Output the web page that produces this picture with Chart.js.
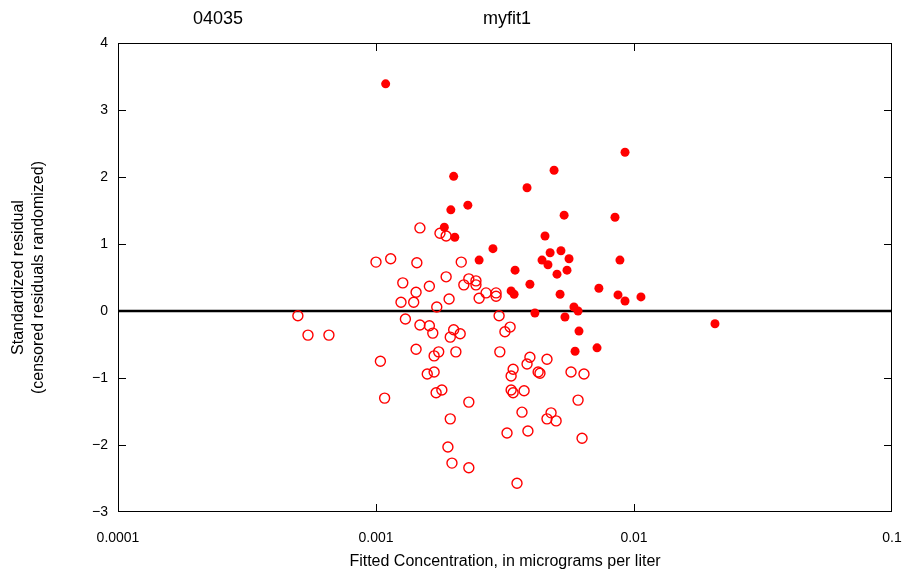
<!DOCTYPE html>
<html>
<head>
<meta charset="utf-8">
<title>04035 myfit1</title>
<script src="https://cdn.jsdelivr.net/npm/chart.js@4.4.0/dist/chart.umd.min.js"></script>
<style>
  body { margin: 0; background: #fff; }
  #wrap { width: 911px; height: 578px; }
</style>
</head>
<body>
<div id="wrap"><canvas id="residplot" width="911" height="578"></canvas></div>
<script>
// uncensored observations (filled dots)
const fitX = [0.00109, 0.00200, 0.00227, 0.00195, 0.00184, 0.00202, 0.00284, 0.00251, 0.00385, 0.00490,
  0.00923, 0.00536, 0.00844, 0.00452, 0.00473, 0.00521, 0.00440, 0.00560, 0.00464, 0.00882,
  0.00346, 0.00550, 0.00503, 0.00731, 0.00395, 0.00517, 0.00867, 0.00923, 0.01064, 0.00334,
  0.00343, 0.00413, 0.00585, 0.00607, 0.00540, 0.00612, 0.00591, 0.00719, 0.0206];
const residY = [3.39, 2.01, 1.58, 1.51, 1.25, 1.10, 0.93, 0.76, 1.84, 2.10,
  2.37, 1.43, 1.40, 1.12, 0.87, 0.90, 0.76, 0.78, 0.69, 0.76,
  0.61, 0.61, 0.55, 0.34, 0.40, 0.25, 0.24, 0.15, 0.21, 0.30,
  0.25, -0.03, 0.06, 0.00, -0.09, -0.30, -0.60, -0.55, -0.19];

// censored observations (open circles)
const censFitX = [0.00148, 0.00177, 0.00187, 0.00100, 0.00114, 0.00144, 0.00214, 0.00127, 0.00143, 0.00161,
  0.00187, 0.00229, 0.00219, 0.00244, 0.00244, 0.00192, 0.00251, 0.00267, 0.00292, 0.00292,
  0.00125, 0.00140, 0.00172, 0.00300, 0.000498, 0.00130, 0.000545, 0.000657, 0.00148, 0.00161,
  0.00166, 0.00200, 0.00194, 0.00212, 0.00331, 0.00316, 0.00143, 0.00175, 0.00168, 0.00204,
  0.00302, 0.00104, 0.00395, 0.00385, 0.00460, 0.00340, 0.00334, 0.00425, 0.00432, 0.00570,
  0.00640, 0.00158, 0.00168, 0.00108, 0.00171, 0.00180, 0.00229, 0.00334, 0.00340, 0.00375,
  0.00607, 0.00194, 0.00368, 0.00477, 0.00460, 0.00499, 0.00322, 0.00388, 0.00629, 0.00190,
  0.00197, 0.00229, 0.00352];
const censResidY = [1.24, 1.16, 1.12, 0.73, 0.78, 0.72, 0.73, 0.42, 0.28, 0.37,
  0.51, 0.48, 0.39, 0.45, 0.39, 0.18, 0.19, 0.27, 0.27, 0.22,
  0.13, 0.13, 0.06, -0.07, -0.07, -0.12, -0.36, -0.36, -0.21, -0.22,
  -0.33, -0.28, -0.39, -0.34, -0.24, -0.31, -0.57, -0.61, -0.67, -0.61,
  -0.61, -0.75, -0.69, -0.79, -0.72, -0.87, -0.97, -0.91, -0.93, -0.91,
  -0.94, -0.94, -0.91, -1.30, -1.22, -1.18, -1.36, -1.18, -1.22, -1.19,
  -1.33, -1.61, -1.51, -1.52, -1.61, -1.64, -1.82, -1.79, -1.90, -2.03,
  -2.27, -2.34, -2.57];

const xTickVals = [0.0001, 0.001, 0.01, 0.1];
const xTickLabels = ['0.0001', '0.001', '0.01', '0.1'];
const yTickVals = [-3, -2, -1, 0, 1, 2, 3, 4];

const siteLabel = '04035';
const modelLabel = 'myfit1';

function toPoints(xs, ys) {
  return xs.map(function(x, i) { return {x: x, y: ys[i]}; });
}

// frame, inward ticks and the two header texts
const framePlugin = {
  id: 'frame',
  afterDatasetsDraw(chart) {
    const ctx = chart.ctx;
    const a = chart.chartArea;
    const xs = chart.scales.x, ys = chart.scales.y;
    const tl = 8;
    ctx.save();
    ctx.strokeStyle = '#000';
    ctx.lineWidth = 1;
    ctx.strokeRect(a.left + 0.5, a.top + 0.5, a.right - a.left - 1, a.bottom - a.top - 1);
    ctx.beginPath();
    xTickVals.slice(1, -1).forEach(function(v) {
      const px = Math.round(xs.getPixelForValue(v)) + 0.5;
      ctx.moveTo(px, a.top); ctx.lineTo(px, a.top + tl);
      ctx.moveTo(px, a.bottom); ctx.lineTo(px, a.bottom - tl);
    });
    yTickVals.slice(1, -1).forEach(function(v) {
      const py = Math.round(ys.getPixelForValue(v)) + 0.5;
      ctx.moveTo(a.left, py); ctx.lineTo(a.left + tl, py);
      ctx.moveTo(a.right, py); ctx.lineTo(a.right - tl, py);
    });
    ctx.stroke();
    ctx.restore();
  },
  afterDraw(chart) {
    const ctx = chart.ctx;
    ctx.save();
    ctx.fillStyle = '#000';
    ctx.font = '18px "Liberation Sans", Arial, sans-serif';
    ctx.textAlign = 'center';
    ctx.textBaseline = 'middle';
    ctx.fillText(siteLabel, 218, 19);
    ctx.fillText(modelLabel, 507, 19);
    ctx.restore();
  }
};

const ctx = document.getElementById('residplot');
new Chart(ctx, {
  type: 'scatter',
  data: {
    datasets: [{
      label: 'uncensored',
      data: toPoints(fitX, residY),
      pointRadius: 4.5,
      pointBackgroundColor: '#ff0000',
      pointBorderWidth: 0,
      order: 0
    }, {
      label: 'censored',
      data: toPoints(censFitX, censResidY),
      pointRadius: 5,
      pointBackgroundColor: 'rgba(0,0,0,0)',
      pointBorderColor: '#ff0000',
      pointBorderWidth: 1.4,
      order: 1
    }, {
      type: 'line',
      label: 'zero',
      data: [{x: xTickVals[0], y: 0}, {x: xTickVals[xTickVals.length - 1], y: 0}],
      borderColor: '#000',
      borderWidth: 2.6,
      pointRadius: 0,
      order: 2
    }]
  },
  options: {
    responsive: false,
    animation: false,
    events: [],
    layout: { padding: { top: 43, right: 19, left: 0, bottom: 0 } },
    plugins: {
      legend: { display: false },
      tooltip: { enabled: false }
    },
    scales: {
      x: {
        type: 'logarithmic',
        min: 0.0001,
        max: 0.1,
        afterBuildTicks: function(scale) {
          scale.ticks = xTickVals.map(function(v) { return {value: v}; });
        },
        afterFit: function(scale) {
          scale.height = 66;
          // the end labels may hang past the frame, like in the original
          scale.paddingLeft = 0;
          scale.paddingRight = 0;
        },
        grid: { display: false, drawTicks: false },
        border: { display: false },
        ticks: {
          padding: 18,
          color: '#000',
          font: { family: '"Liberation Sans", Arial, sans-serif', size: 14 },
          maxRotation: 0,
          autoSkip: false,
          callback: function(value, index) { return xTickLabels[index]; }
        },
        title: {
          display: true,
          text: 'Fitted Concentration, in micrograms per liter',
          color: '#000',
          font: { family: '"Liberation Sans", Arial, sans-serif', size: 16, lineHeight: 1.25 },
          padding: { bottom: 6 }
        }
      },
      y: {
        min: -3,
        max: 4,
        afterBuildTicks: function(scale) {
          scale.ticks = yTickVals.map(function(v) { return {value: v}; });
        },
        afterFit: function(scale) { scale.width = 118; },
        grid: { display: false, drawTicks: false },
        border: { display: false },
        ticks: {
          padding: 10,
          color: '#000',
          font: { family: '"Liberation Sans", Arial, sans-serif', size: 14 },
          callback: function(value) { return value < 0 ? '\u2212' + Math.abs(value) : String(value); }
        },
        title: {
          display: true,
          text: ['Standardized residual', '(censored residuals randomized)'],
          color: '#000',
          font: { family: '"Liberation Sans", Arial, sans-serif', size: 16, lineHeight: 1.25 },
          padding: { top: 9 }
        }
      }
    }
  },
  plugins: [framePlugin]
});
</script>
</body>
</html>
